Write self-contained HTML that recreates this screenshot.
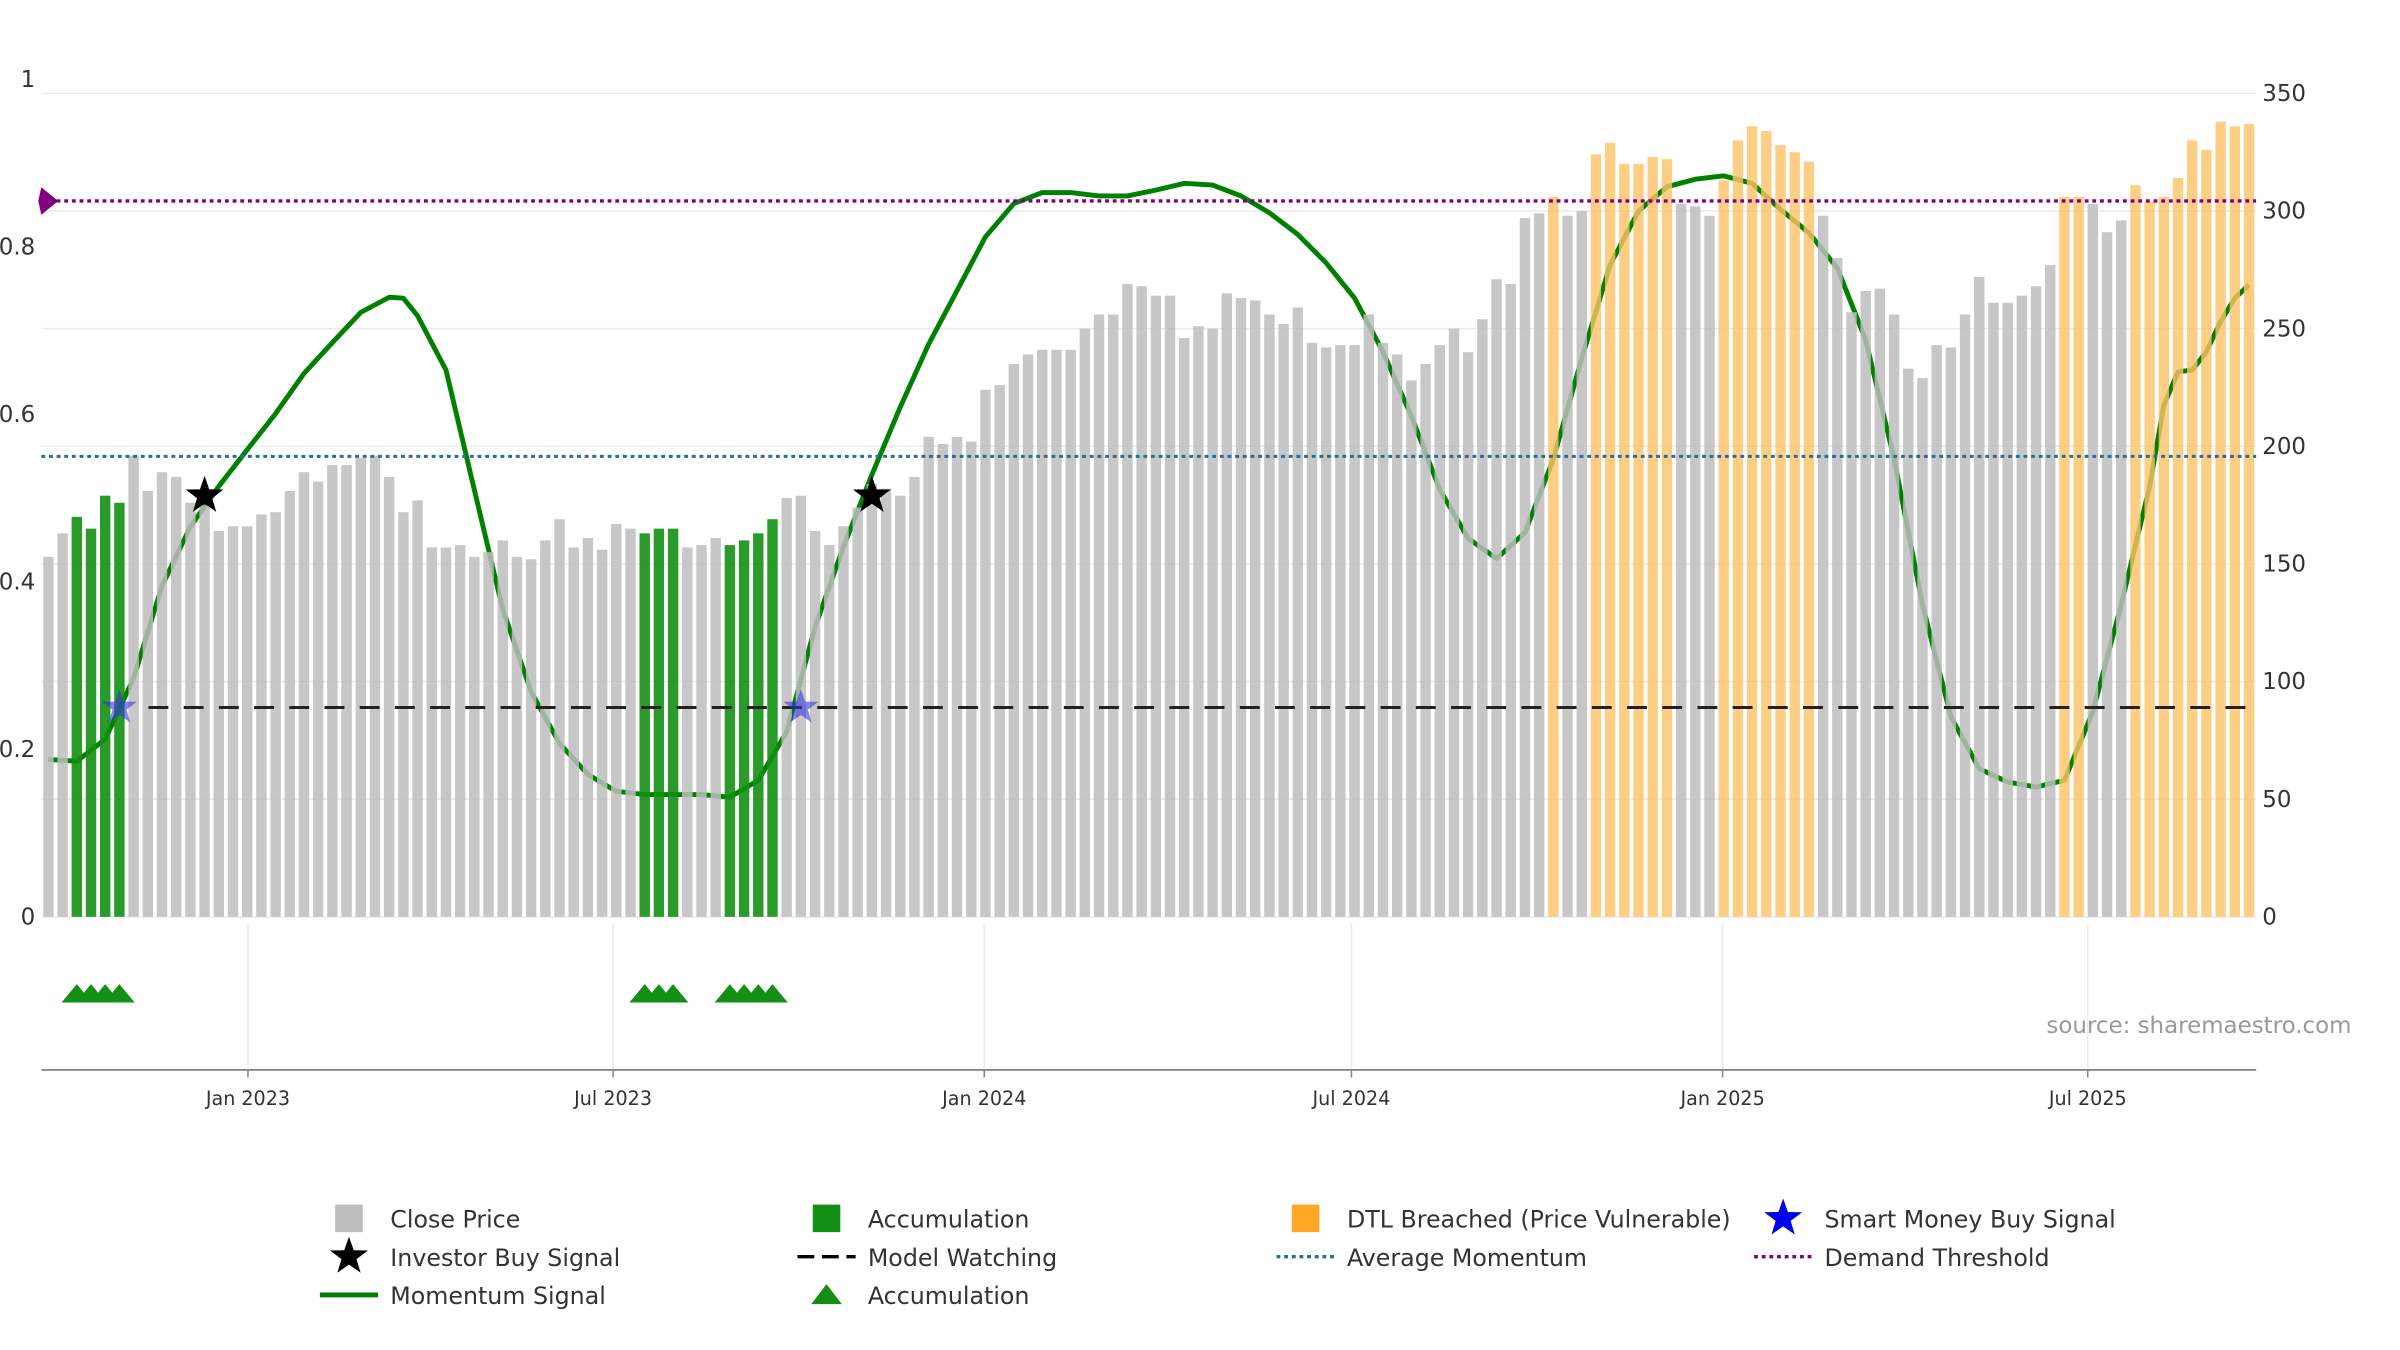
<!DOCTYPE html>
<html><head><meta charset="utf-8"><style>
html,body{margin:0;padding:0;background:#fff;}
svg{display:block;font-family:"DejaVu Sans","Liberation Sans",sans-serif;}
</style></head><body>
<svg id="chart" width="2400" height="1350" viewBox="0 0 1568 882" xmlns="http://www.w3.org/2000/svg">
<g id="grid"></g>
<g id="line"></g>
<g id="bars"></g>
<g id="overlay"></g>
<g id="axes"></g>
<g id="lower"></g>
<text x="1337" y="675" font-size="15" fill="#999">source: sharemaestro.com</text>
<g id="legend"></g>
</svg>
<script>
// ---- data ----
const closePrice=[153,163,170,165,179,176,196,181,189,187,176,175,164,166,166,171,172,181,189,185,192,192,195,196,187,172,177,157,157,158,153,155,160,153,152,160,169,157,161,156,167,165,163,165,165,157,158,161,158,160,163,169,178,179,164,158,166,174,184,182,179,187,204,201,204,202,224,226,235,239,241,241,241,250,256,256,269,268,264,264,246,251,250,265,263,262,256,252,259,244,242,243,243,256,244,239,228,235,243,250,240,254,271,269,297,299,306,298,300,324,329,320,320,323,322,303,302,298,313,330,336,334,328,325,321,298,280,257,266,267,256,233,229,243,242,256,272,261,261,264,268,277,306,306,303,291,296,311,304,306,314,330,326,338,336,337];
const accumulationWeeks=[2,3,4,5,42,43,44,48,49,50,51];
const breachedWeeks=[106,109,110,111,112,113,114,118,119,120,121,122,123,124,142,143,147,148,149,150,151,152,153,154,155];
const momentumWeeks=[0,2,4,6,8,10,12,14,16,18,20,22,24,25,26,28,30,32,34,36,38,40,42,44,46,48,50,52,54,56,58,60,62,64,66,68,70,72,74,76,78,80,82,84,86,88,90,92,94,96,98,100,102,104,106,108,110,112,114,116,118,120,122,124,126,128,130,132,134,136,138,140,142,144,146,148,149,150,151,152,153,154,155];
const momentumValues=[.188,.186,.212,.285,.395,.466,.514,.558,.601,.649,.686,.722,.740,.739,.718,.653,.510,.367,.269,.207,.170,.150,.146,.146,.146,.143,.163,.221,.346,.442,.528,.609,.684,.748,.812,.852,.865,.865,.861,.861,.868,.876,.874,.861,.841,.815,.781,.739,.675,.598,.510,.452,.428,.459,.547,.667,.779,.843,.872,.881,.885,.876,.845,.817,.775,.689,.547,.373,.239,.177,.161,.155,.163,.245,.373,.514,.611,.651,.653,.675,.711,.739,.755];
const investorBuyWeeks=[11,58];
const investorBuyValues=[0.503,0.503];
const smartMoneyWeeks=[5,53];
const avgMomentum=0.55, demandThreshold=0.855, modelWatching=0.25;
const leftTicks=[0,0.2,0.4,0.6,0.8,1];
const leftTickLabels=["0","0.2","0.4","0.6","0.8","1"];
const rightTicks=[0,50,100,150,200,250,300,350];
const dateTicks=["2023-01-01","2023-07-01","2024-01-01","2024-07-01","2025-01-01","2025-07-01"];
const dateTickLabels=["Jan 2023","Jul 2023","Jan 2024","Jul 2024","Jan 2025","Jul 2025"];

// ---- scales ----
const NS="http://www.w3.org/2000/svg";
const X0=27,X1=1474,Y0=599;
const N=closePrice.length, step=(X1-X0)/N;
const xw=i=>X0+(i+0.5)*step;
const yl=v=>Y0-v*547;
const yr=v=>Y0-v*(538/350);
const t0=Date.UTC(2023,0,1), pxDay=(1364-162)/912;
const xd=s=>162+(Date.parse(s)-t0)/864e5*pxDay;
function mk(tag,attrs,parent){const e=document.createElementNS(NS,tag);for(const k in attrs)e.setAttribute(k,attrs[k]);parent.appendChild(e);return e;}
function star(cx,cy,r){let p=[];for(let k=0;k<10;k++){const a=-Math.PI/2+k*Math.PI/5,rr=k%2?r*0.4:r;p.push((cx+rr*Math.cos(a)).toFixed(1)+","+(cy+rr*Math.sin(a)).toFixed(1));}return p.join(" ");}

const grid=document.getElementById('grid');
rightTicks.forEach(v=>{const l=mk('line',{x1:X0,x2:X1,y1:yr(v),y2:yr(v),stroke:'#ebebeb','stroke-width':1},grid);

});

// momentum line
const lg=document.getElementById('line');
const pts=momentumWeeks.map((w,k)=>xw(w).toFixed(1)+","+yl(momentumValues[k]).toFixed(1)).join(" ");
const ml=mk('polyline',{points:pts,fill:'none',stroke:'#008000','stroke-width':3.2,'stroke-linejoin':'round'},lg);



// bars
const bg=document.getElementById('bars');
closePrice.forEach((v,i)=>{
 let col='#bdbdbd',op=0.85;
 if(accumulationWeeks.includes(i)){col='#138f13';op=0.9;}
 else if(breachedWeeks.includes(i)){col='#ffc266';op=0.8;}
 const r=mk('rect',{x:xw(i)-3.4,y:yr(v),width:6.8,height:Y0-yr(v),fill:col,'fill-opacity':op},bg);
 
 
});

// overlays
const ov=document.getElementById('overlay');
let e=mk('line',{x1:X0,x2:X1,y1:yl(demandThreshold),y2:yl(demandThreshold),stroke:'#800080','stroke-width':2.2,'stroke-dasharray':'2.5 2.5'},ov);


e=mk('polygon',{points:`${X0},${yl(demandThreshold)-9} ${X0+11},${yl(demandThreshold)} ${X0},${yl(demandThreshold)+9} ${X0-2},${yl(demandThreshold)}`,fill:'#800080'},ov);


e=mk('line',{x1:X0,x2:X1,y1:yl(avgMomentum),y2:yl(avgMomentum),stroke:'#1f6fa4','stroke-width':2,'stroke-dasharray':'2.5 2.5'},ov);


e=mk('line',{x1:X0+70,x2:X1,y1:yl(modelWatching),y2:yl(modelWatching),stroke:'#222','stroke-width':2,'stroke-dasharray':'13 10'},ov);


investorBuyWeeks.forEach((w,k)=>{const s=mk('polygon',{points:star(xw(w),yl(investorBuyValues[k]),13),fill:'#000'},ov);

});
smartMoneyWeeks.forEach(w=>{const s=mk('polygon',{points:star(xw(w),yl(modelWatching),12),fill:'#3333dd','fill-opacity':0.6},ov);

});

// axes
const ax=document.getElementById('axes');
leftTicks.forEach((v,k)=>{const t=mk('text',{x:23,y:yl(v)+5,'font-size':15,fill:'#333','text-anchor':'end'},ax);t.textContent=leftTickLabels[k];

});
rightTicks.forEach(v=>{const t=mk('text',{x:1478,y:yr(v)+5,'font-size':15,fill:'#333'},ax);t.textContent=v;

});

// lower panel
const lo=document.getElementById('lower');
dateTicks.forEach((d,k)=>{const x=xd(d);
 const g=mk('line',{x1:x,x2:x,y1:603,y2:699,stroke:'#ebebeb','stroke-width':1},lo);
 
 
 const tk=mk('line',{x1:x,x2:x,y1:699,y2:704,stroke:'#888','stroke-width':1},lo);
 
 
 const t=mk('text',{x:x,y:722,'font-size':12.5,fill:'#333','text-anchor':'middle'},lo);t.textContent=dateTickLabels[k];
 
 });
e=mk('line',{x1:X0,x2:X1,y1:699,y2:699,stroke:'#888','stroke-width':1.2},lo);


accumulationWeeks.forEach(w=>{const x=xw(w);const t=mk('polygon',{points:`${x-10},655 ${x},643 ${x+10},655`,fill:'#138f13'},lo);

});

// legend
const lgd=document.getElementById('legend');
const items=[
 [228,796,'sq','#bdbdbd','Close Price'],[540,796,'sq','#138f13','Accumulation'],[853,796,'sq','#ffa726','DTL Breached (Price Vulnerable)'],[1165,796,'star','#0000ee','Smart Money Buy Signal'],
 [228,821,'star','#000','Investor Buy Signal'],[540,821,'dash','#000','Model Watching'],[853,821,'dot','#1f6fa4','Average Momentum'],[1165,821,'dot','#800080','Demand Threshold'],
 [228,846,'line','#008000','Momentum Signal'],[540,846,'tri','#138f13','Accumulation']];
items.forEach(([x,y,kind,col,label])=>{
 const g=mk('g',{},lgd);
 
 
 if(kind==='sq')mk('rect',{x:x-9,y:y-9,width:18,height:18,fill:col},g);
 else if(kind==='star')mk('polygon',{points:star(x,y,13),fill:col},g);
 else if(kind==='dash')mk('line',{x1:x-19,x2:x+19,y1:y,y2:y,stroke:col,'stroke-width':2.2,'stroke-dasharray':'11 5'},g);
 else if(kind==='dot')mk('line',{x1:x-19,x2:x+19,y1:y,y2:y,stroke:col,'stroke-width':2.2,'stroke-dasharray':'2.5 2.5'},g);
 else if(kind==='line')mk('line',{x1:x-19,x2:x+19,y1:y,y2:y,stroke:col,'stroke-width':3.2},g);
 else if(kind==='tri')mk('polygon',{points:`${x-10},${y+6} ${x},${y-7} ${x+10},${y+6}`,fill:col},g);
 const t=mk('text',{x:x+27,y:y+6,'font-size':15.5,fill:'#333'},g);t.textContent=label;
});
</script>
</body></html>
